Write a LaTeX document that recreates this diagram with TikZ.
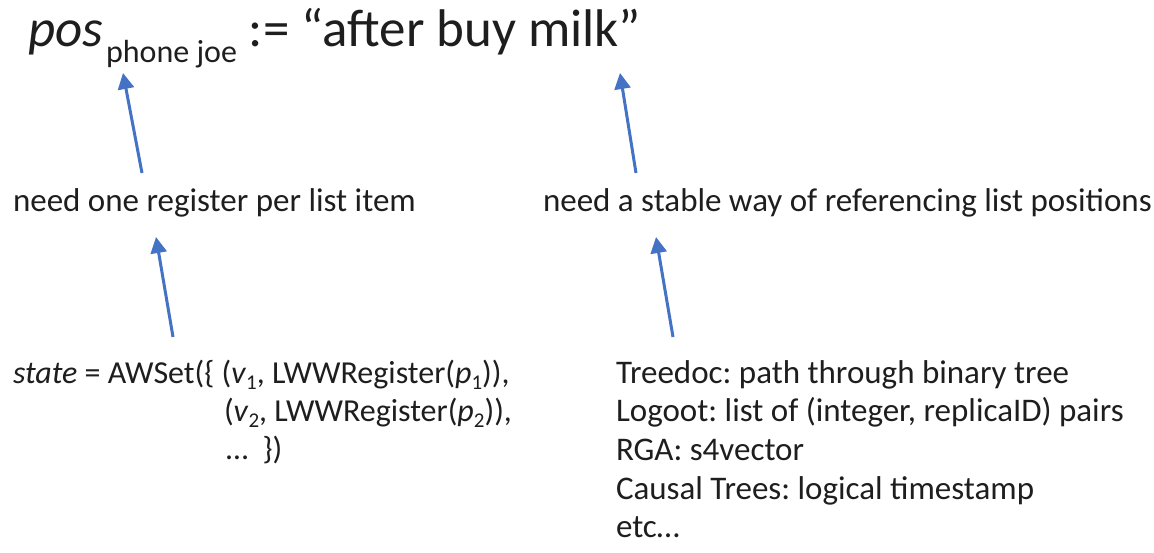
\documentclass[tikz,border=0pt]{standalone}
\usepackage{fontspec}
\setmainfont{Carlito}
\usetikzlibrary{arrows.meta}
\frenchspacing
\definecolor{arrowblue}{RGB}{68,114,196}
\definecolor{txt}{RGB}{30,30,30}
\newcommand\bigf{\fontsize{53}{60}\selectfont}
\newcommand\midf{\fontsize{33}{38}\selectfont}
\newcommand\lowf{\fontsize{32}{38}\selectfont}
\newcommand\lowsub[1]{\raisebox{-6pt}{\fontsize{21}{24}\selectfont #1}}
\begin{document}
\begin{tikzpicture}[x=1pt,y=-1pt,
  txtnode/.style={anchor=base west,inner sep=0pt,outer sep=0pt,text=txt,font=\midf},
  bluearrow/.style={draw=arrowblue,line width=3pt,-{Triangle[length=16pt,width=16pt]}}]
\useasboundingbox[fill=white] (0,0) rectangle (1154,553);

% title
\node[txtnode] (title) at (28,47) {{\bigf\itshape pos}\hspace{3pt}\raisebox{-16pt}{\lowf phone joe}{\bigf\ := “after buy milk”}};

% middle
\node[txtnode] (need1) at (13,212) {need one register per list item};
\node[txtnode] (need2) at (543,212) {need a stable way of referencing list positions};

% bottom left
\node[txtnode,font=\lowf] (state1) at (13,383) {\textit{state} = AWSet(\{ (\textit{v}\lowsub{1}, LWWRegister(\textit{p}\lowsub{1})),};
\node[txtnode,font=\lowf] (state2) at (224,421) {(\textit{v}\lowsub{2}, LWWRegister(\textit{p}\lowsub{2})),};
\node[txtnode,font=\lowf] (state3) at (226,459) {…\ \ \})};

% bottom right
\node[txtnode] (tree) at (616,383) {Treedoc: path through binary tree};
\node[txtnode] (logoot) at (616,421) {Logoot: list of (integer, replicaID) pairs};
\node[txtnode] (rga) at (616,460) {RGA: s4vector};
\node[txtnode] (causal) at (616,499) {Causal Trees: logical timestamp};
\node[txtnode] (etc) at (616,537) {etc…};

% arrow end points
\coordinate (a1s) at (142,173);
\coordinate (a1e) at (123,73);
\coordinate (a2s) at (636,173);
\coordinate (a2e) at (620,73);
\coordinate (a3s) at (173,337);
\coordinate (a3e) at (156,237);
\coordinate (a4s) at (673,337);
\coordinate (a4e) at (656,237);

\draw[bluearrow] (a1s) -- (a1e);
\draw[bluearrow] (a2s) -- (a2e);
\draw[bluearrow] (a3s) -- (a3e);
\draw[bluearrow] (a4s) -- (a4e);
\end{tikzpicture}
\end{document}
